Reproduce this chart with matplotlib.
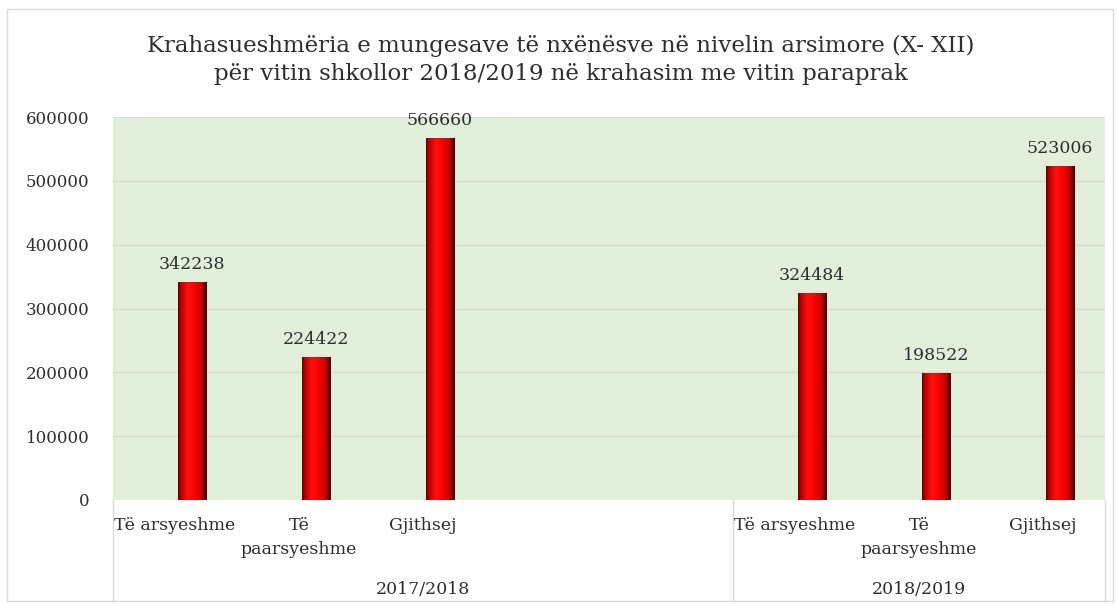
import numpy as np
import matplotlib
matplotlib.use('Agg')
import matplotlib.pyplot as plt
import matplotlib.transforms as mtransforms
from matplotlib.colors import LinearSegmentedColormap
from matplotlib.patches import Rectangle
from matplotlib.lines import Line2D

# ---- data ----
groups = ['2017/2018', '2018/2019']
group_slots = [5, 3]            # first group has two empty slots
categories = ['Të arsyeshme', 'Të\npaarsyeshme', 'Gjithsej']
values_2017 = [342238, 224422, 566660]
values_2018 = [324484, 198522, 523006]
title = ('Krahasueshmëria e mungesave të nxënësve në nivelin arsimore (X- XII)\n'
         'për vitin shkollor 2018/2019 në krahasim me vitin paraprak')

plt.rcParams['font.family'] = ['DejaVu Serif']
text_col = '#2e2e2e'
green_bg = '#E2EFDA'
grid_col = '#D3DECC'
line_col = '#D9D9D9'

fig = plt.figure(figsize=(11.18, 6.04), dpi=100)
fig.patch.set_facecolor('white')
ax = fig.add_axes([113/1118, 1 - 500/604, (1105 - 113)/1118, (500 - 117)/604])
ax.set_facecolor(green_bg)

# bar slot positions
slot_x = [0, 1, 2, 5, 6, 7]
vals = values_2017 + values_2018
offset = 0.137
width = 0.226

cmap = LinearSegmentedColormap.from_list('cyl', [
    (0.0, '#5a0000'), (0.12, '#c00000'), (0.35, '#ff1010'),
    (0.55, '#ff0000'), (0.8, '#c80000'), (1.0, '#400000')])
grad = np.linspace(0, 1, 256).reshape(1, -1)

bars = ax.bar([x + offset for x in slot_x], vals, width=width, color='#ee0000',
              edgecolor='none', zorder=3)
for b, v in zip(bars, vals):
    x0 = b.get_x()
    im = ax.imshow(grad, cmap=cmap, aspect='auto', zorder=4,
                   extent=(x0, x0 + b.get_width(), 0, v))
    im.set_clip_path(b)
    ax.text(x0 + b.get_width() / 2, v + 14000, f'{v}', ha='center', va='bottom',
            fontsize=12.5, color=text_col, zorder=5)

ax.set_xlim(-0.5, 7.5)
ax.set_ylim(0, 600000)
ax.set_yticks(np.arange(0, 600001, 100000))
ax.yaxis.grid(True, color=grid_col, linewidth=1)
ax.set_axisbelow(True)
ax.tick_params(axis='y', length=0, pad=17, labelsize=12, labelcolor=text_col)
ax.set_xticks([])
for s in ax.spines.values():
    s.set_visible(False)

# category labels (multi-level axis)
tr = mtransforms.blended_transform_factory(ax.transData, fig.transFigure)
for i, x in enumerate(slot_x):
    lab = categories[i % 3]
    ax.text(x, 1 - 517/604, lab, ha='center', va='top', fontsize=12.5,
            color=text_col, transform=tr, linespacing=1.55)
start = -0.5
for g, n in zip(groups, group_slots):
    ax.text(start + n / 2, 1 - 589/604, g, ha='center', va='center',
            fontsize=12.5, color=text_col, transform=tr)
    start += n
for xb in [-0.5, 4.5, 7.5]:
    fig.add_artist(Line2D([xb, xb], [1 - 500/604, 1 - 600/604], transform=tr,
                          color=line_col, linewidth=1, clip_on=False))

fig.text(561/1118, 1 - 60/604, title, ha='center', va='center', fontsize=16.5,
         color=text_col, linespacing=1.3)

# outer chart border
fig.add_artist(Rectangle((7/1118, 1 - 601/604), 1106/1118, 592/604,
                         transform=fig.transFigure, fill=False,
                         edgecolor='#D9D9D9', linewidth=1))

fig.savefig('out.png', dpi=100, facecolor='white')
